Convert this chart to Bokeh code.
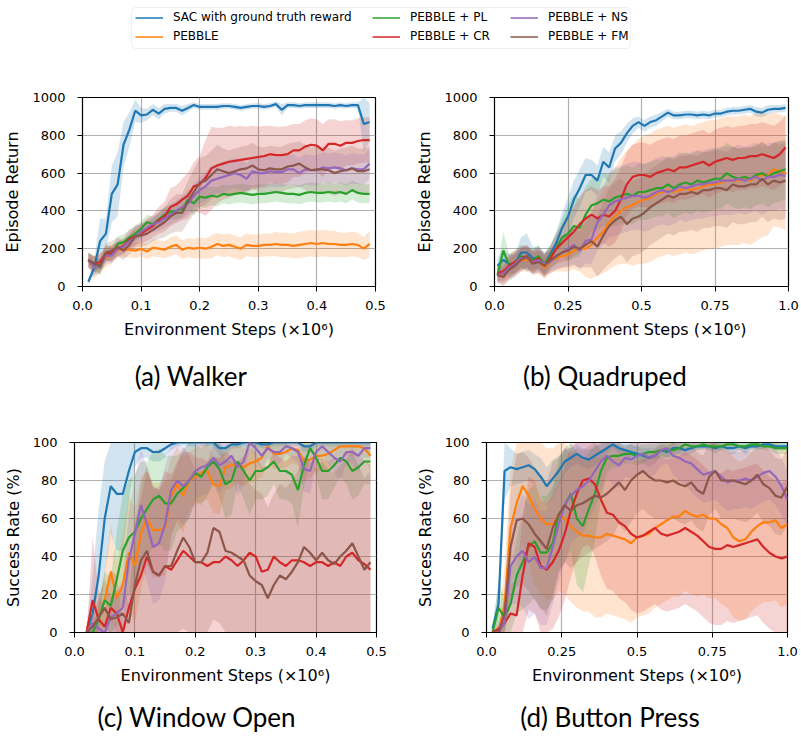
import numpy as np
from bokeh.plotting import figure
from bokeh.models import (Range1d, FixedTicker, CustomJSTickFormatter, PrintfTickFormatter,
                          Label, Legend, LegendItem, BoxAnnotation)
from bokeh.layouts import column, row
from bokeh.embed import file_html
from bokeh.resources import INLINE

methods = ["SAC with ground truth reward", "PEBBLE", "PEBBLE + PL",
           "PEBBLE + CR", "PEBBLE + NS", "PEBBLE + FM"]
colors = ["#1f77b4", "#ff7f0e", "#2ca02c", "#d62728", "#9467bd", "#8c564b"]

# ---------------- (a) Walker ----------------
walker_steps = [0.01, 0.02, 0.03, 0.04, 0.05, 0.06, 0.07, 0.08, 0.09, 0.10,
                0.11, 0.12, 0.13, 0.14, 0.15, 0.16, 0.17, 0.18, 0.19, 0.20,
                0.21, 0.22, 0.23, 0.24, 0.25, 0.26, 0.27, 0.28, 0.29, 0.30,
                0.31, 0.32, 0.33, 0.34, 0.35, 0.36, 0.37, 0.38, 0.39, 0.40,
                0.41, 0.42, 0.43, 0.44, 0.45, 0.46, 0.47, 0.48, 0.49]
walker_sac = [25, 100, 240, 280, 490, 540, 750, 830, 930, 905,
              910, 935, 915, 940, 945, 945, 930, 945, 960, 950,
              950, 950, 950, 955, 955, 950, 945, 950, 955, 955,
              950, 955, 965, 935, 960, 960, 955, 960, 960, 960,
              960, 960, 955, 960, 955, 960, 960, 860, 870]
walker_pebble = [140, 100, 130, 150, 170, 195, 195, 195, 190, 200,
                 185, 205, 200, 195, 210, 220, 195, 205, 200, 205,
                 200, 210, 225, 215, 220, 210, 200, 220, 215, 215,
                 220, 220, 225, 220, 220, 215, 220, 225, 230, 225,
                 230, 225, 225, 220, 220, 225, 220, 200, 225]
walker_pl = [140, 120, 100, 180, 170, 225, 235, 260, 280, 305,
             340, 330, 355, 380, 395, 400, 410, 460, 440, 475,
             470, 480, 475, 490, 485, 490, 495, 490, 485, 490,
             490, 495, 500, 495, 490, 490, 485, 495, 500, 495,
             495, 500, 495, 500, 490, 510, 495, 490, 490]
walker_cr = [140, 120, 130, 175, 175, 200, 215, 250, 265, 280,
             300, 320, 350, 370, 420, 435, 460, 480, 530, 540,
             575, 625, 640, 650, 660, 665, 670, 675, 680, 685,
             690, 700, 695, 695, 700, 720, 720, 740, 750, 745,
             720, 755, 755, 745, 760, 760, 770, 775, 775]
walker_ns = [140, 100, 110, 160, 165, 200, 210, 240, 260, 290,
             310, 330, 340, 360, 380, 400, 420, 440, 480, 510,
             530, 560, 570, 580, 590, 600, 590, 570, 610, 600,
             600, 610, 605, 605, 620, 620, 600, 620, 615, 615,
             630, 625, 630, 625, 615, 625, 620, 620, 650]
walker_fm = [140, 120, 110, 180, 190, 210, 190, 220, 265, 270,
             280, 300, 320, 340, 370, 390, 390, 450, 500, 550,
             560, 590, 620, 610, 600, 610, 620, 625, 640, 620,
             615, 625, 620, 620, 635, 640, 650, 630, 615, 620,
             620, 615, 600, 610, 615, 625, 610, 610, 620]
walker_sac_sd = [10, 40, 120, 80, 150, 170, 120, 90, 60, 40,
                 30, 30, 30, 25, 20, 20, 25, 20, 15, 15,
                 15, 15, 15, 15, 15, 15, 15, 15, 15, 15,
                 15, 15, 15, 30, 15, 15, 15, 15, 15, 15,
                 15, 15, 15, 15, 15, 15, 15, 150, 100]
walker_pebble_sd = [40, 60, 50, 50, 50, 40, 40, 40, 40, 40,
                    40, 45, 45, 45, 50, 50, 50, 50, 50, 55,
                    55, 60, 60, 60, 60, 60, 60, 60, 60, 60,
                    60, 60, 65, 65, 65, 65, 70, 70, 70, 70,
                    70, 70, 70, 65, 65, 65, 65, 60, 70]
walker_pl_sd = [40, 40, 40, 40, 40, 40, 40, 40, 40, 40,
                40, 40, 40, 40, 40, 45, 45, 50, 60, 55,
                55, 50, 50, 50, 50, 50, 50, 50, 50, 50,
                50, 50, 50, 50, 50, 50, 50, 50, 50, 50,
                50, 50, 50, 50, 50, 50, 50, 50, 50]
walker_cr_sd = [30, 40, 40, 40, 40, 40, 40, 50, 50, 50,
                60, 60, 70, 80, 100, 100, 110, 120, 130, 150,
                200, 220, 200, 190, 190, 180, 180, 170, 170, 160,
                160, 150, 150, 150, 150, 140, 140, 140, 140, 140,
                140, 130, 130, 130, 120, 120, 120, 120, 120]
walker_ns_sd = [40, 40, 40, 40, 40, 40, 40, 40, 40, 40,
                40, 40, 45, 50, 50, 55, 60, 60, 65, 70,
                75, 80, 80, 80, 80, 80, 80, 80, 80, 80,
                80, 80, 80, 80, 80, 80, 80, 80, 80, 80,
                80, 80, 80, 80, 80, 80, 80, 80, 80]
walker_fm_sd = [40, 40, 40, 50, 50, 50, 50, 50, 60, 60,
                60, 60, 70, 80, 90, 100, 100, 110, 120, 130,
                130, 130, 130, 120, 120, 120, 120, 120, 120, 120,
                120, 120, 120, 120, 120, 120, 120, 120, 120, 120,
                120, 120, 120, 120, 120, 120, 120, 120, 120]

# ---------------- (b) Quadruped ----------------
quad_steps = [0.01, 0.03, 0.05, 0.07, 0.09, 0.11, 0.13, 0.15, 0.17, 0.19,
              0.21, 0.23, 0.25, 0.27, 0.29, 0.31, 0.33, 0.35, 0.37, 0.39,
              0.41, 0.43, 0.45, 0.47, 0.49, 0.51, 0.53, 0.55, 0.57, 0.59,
              0.61, 0.63, 0.65, 0.67, 0.69, 0.71, 0.73, 0.75, 0.77, 0.79,
              0.81, 0.83, 0.85, 0.87, 0.89, 0.91, 0.93, 0.95, 0.97, 0.99]
quad_sac = [110, 140, 120, 120, 180, 180, 150, 150, 120, 170,
            230, 310, 370, 460, 520, 590, 590, 560, 660, 630,
            730, 760, 810, 850, 870, 850, 870, 880, 900, 920,
            905, 905, 910, 910, 905, 910, 905, 915, 915, 925,
            930, 930, 935, 940, 925, 920, 935, 940, 940, 945]
quad_pebble = [70, 60, 100, 120, 140, 140, 130, 130, 100, 130,
               150, 160, 170, 190, 200, 200, 220, 260, 290, 340,
               370, 400, 420, 430, 450, 460, 470, 490, 500, 510,
               500, 510, 520, 510, 520, 530, 540, 540, 550, 560,
               560, 560, 570, 560, 580, 590, 590, 620, 610, 600]
quad_pl = [60, 190, 110, 130, 160, 150, 140, 160, 120, 160,
           200, 260, 280, 320, 310, 380, 430, 440, 460, 450,
           470, 480, 490, 480, 500, 500, 510, 520, 520, 540,
           520, 540, 550, 540, 560, 550, 560, 570, 570, 600,
           580, 570, 580, 570, 590, 600, 580, 600, 610, 620]
quad_cr = [70, 80, 110, 130, 150, 160, 130, 150, 110, 150,
           200, 230, 260, 290, 330, 360, 380, 360, 380, 370,
           400, 460, 540, 580, 590, 590, 580, 600, 610, 620,
           610, 630, 630, 640, 650, 660, 640, 660, 670, 680,
           670, 680, 680, 690, 690, 700, 690, 680, 700, 735]
quad_ns = [60, 70, 100, 120, 150, 150, 130, 140, 120, 130,
           160, 180, 200, 220, 190, 240, 250, 340, 380, 430,
           450, 460, 470, 480, 480, 470, 480, 500, 510, 500,
           510, 530, 520, 530, 540, 540, 550, 550, 560, 560,
           560, 570, 560, 570, 580, 560, 580, 580, 590, 585]
quad_fm = [60, 50, 90, 110, 140, 160, 120, 130, 110, 140,
           160, 180, 190, 210, 200, 220, 240, 210, 270, 320,
           350, 370, 330, 360, 370, 390, 420, 440, 460, 480,
           470, 490, 490, 500, 490, 510, 510, 520, 520, 510,
           540, 530, 530, 540, 540, 570, 540, 560, 550, 560]
quad_sac_sd = [40, 60, 50, 50, 80, 100, 60, 60, 50, 50,
               60, 80, 100, 100, 100, 90, 80, 80, 80, 80,
               70, 60, 50, 40, 30, 30, 30, 30, 25, 20,
               20, 20, 20, 20, 20, 20, 20, 20, 20, 20,
               20, 20, 20, 20, 25, 25, 25, 20, 20, 20]
quad_pebble_sd = [40, 50, 60, 60, 60, 60, 60, 60, 60, 60,
                  70, 80, 90, 100, 120, 150, 180, 200, 220, 250,
                  260, 280, 300, 320, 330, 340, 340, 340, 340, 340,
                  340, 340, 340, 340, 340, 340, 340, 340, 340, 340,
                  340, 340, 340, 340, 340, 330, 320, 300, 300, 300]
quad_pl_sd = [40, 100, 60, 60, 60, 60, 60, 60, 60, 60,
              80, 100, 150, 170, 150, 150, 140, 140, 140, 140,
              150, 150, 150, 150, 150, 150, 150, 150, 150, 150,
              160, 160, 160, 160, 160, 160, 160, 160, 160, 160,
              160, 160, 160, 160, 160, 160, 160, 160, 160, 160]
quad_cr_sd = [40, 50, 60, 60, 60, 60, 60, 60, 60, 60,
              80, 100, 120, 130, 150, 150, 150, 150, 150, 160,
              170, 170, 170, 170, 170, 170, 170, 170, 170, 170,
              170, 170, 170, 170, 170, 170, 170, 170, 170, 170,
              170, 170, 170, 170, 170, 170, 170, 170, 170, 170]
quad_ns_sd = [40, 50, 60, 60, 60, 60, 60, 60, 60, 60,
              70, 80, 90, 100, 100, 120, 130, 150, 160, 170,
              180, 180, 180, 180, 180, 180, 180, 180, 180, 180,
              180, 180, 180, 180, 180, 180, 180, 180, 180, 180,
              180, 180, 180, 180, 180, 180, 180, 180, 180, 180]
quad_fm_sd = [40, 50, 60, 60, 60, 60, 60, 60, 60, 60,
              70, 80, 90, 100, 100, 120, 140, 160, 180, 200,
              200, 200, 200, 200, 200, 200, 200, 200, 200, 200,
              200, 200, 200, 200, 200, 200, 200, 200, 200, 200,
              200, 200, 200, 200, 200, 200, 200, 200, 200, 200]

# ---------------- (c) Window Open ----------------
window_steps = [0.02, 0.03, 0.04, 0.05, 0.06, 0.07, 0.08, 0.09, 0.10, 0.11,
                0.12, 0.13, 0.14, 0.15, 0.16, 0.17, 0.18, 0.19, 0.20, 0.21,
                0.22, 0.23, 0.24, 0.25, 0.26, 0.27, 0.28, 0.29, 0.30, 0.31,
                0.32, 0.33, 0.34, 0.35, 0.36, 0.37, 0.38, 0.39, 0.40, 0.41,
                0.42, 0.43, 0.44, 0.45, 0.46, 0.47, 0.48, 0.49]
window_sac = [0, 10, 30, 60, 77, 73, 73, 85, 95, 97,
              97, 95, 95, 97, 99, 100, 100, 100, 100, 100,
              100, 100, 97, 97, 99, 99, 100, 100, 100, 99,
              99, 100, 100, 100, 100, 100, 98, 98, 100, 100,
              100, 100, 100, 100, 100, 100, 100, 100]
window_pebble = [3, 3, 8, 17, 32, 18, 25, 42, 35, 52,
                 60, 54, 54, 55, 72, 78, 72, 80, 82, 84,
                 85, 78, 77, 87, 88, 89, 87, 89, 90, 92,
                 98, 94, 94, 95, 97, 96, 90, 91, 93, 93,
                 94, 96, 98, 98, 98, 98, 97, 93]
window_pl = [0, 0, 7, 17, 14, 28, 43, 50, 53, 60,
             65, 70, 72, 68, 68, 73, 76, 80, 84, 82,
             87, 90, 86, 78, 80, 90, 85, 80, 85, 85,
             87, 90, 85, 85, 83, 75, 88, 97, 92, 85,
             85, 88, 92, 90, 85, 87, 90, 90]
window_cr = [0, 17, 7, 3, 13, 10, 0, 13, 23, 30,
             40, 32, 30, 35, 33, 38, 43, 40, 37, 37,
             35, 37, 37, 40, 38, 35, 38, 42, 40, 32,
             33, 40, 37, 35, 38, 38, 37, 35, 37, 37,
             35, 37, 35, 40, 42, 38, 36, 33]
window_ns = [0, 5, 2, 0, 8, 10, 13, 38, 52, 67,
             57, 45, 47, 57, 75, 80, 77, 80, 85, 87,
             88, 92, 88, 90, 93, 87, 90, 100, 97, 93,
             97, 95, 95, 98, 97, 95, 86, 85, 95, 98,
             95, 92, 90, 95, 95, 93, 97, 97]
window_fm = [0, 3, 8, 13, 7, 8, 10, 5, 25, 38,
             43, 32, 30, 35, 35, 43, 50, 45, 37, 37,
             42, 55, 53, 43, 42, 40, 38, 30, 27, 25,
             18, 25, 30, 28, 32, 37, 45, 42, 38, 42,
             38, 36, 40, 43, 47, 40, 33, 37]
window_sac_sd = [0, 20, 35, 30, 25, 30, 30, 15, 8, 5,
                 5, 5, 5, 5, 3, 2, 2, 2, 2, 2,
                 2, 2, 4, 4, 2, 2, 2, 2, 2, 2,
                 2, 2, 2, 2, 2, 2, 3, 3, 2, 2,
                 2, 2, 2, 2, 2, 2, 2, 2]
window_pebble_sd = [3, 5, 10, 15, 25, 20, 25, 30, 30, 30,
                    25, 25, 25, 25, 20, 20, 20, 15, 15, 15,
                    15, 15, 15, 12, 12, 10, 10, 10, 10, 10,
                    8, 8, 8, 8, 8, 8, 10, 10, 8, 8,
                    8, 5, 5, 5, 5, 5, 5, 8]
window_pl_sd = [0, 0, 8, 15, 15, 25, 30, 30, 30, 30,
                25, 25, 25, 25, 25, 20, 20, 20, 15, 15,
                15, 12, 15, 18, 18, 12, 15, 18, 15, 15,
                15, 12, 15, 15, 15, 20, 12, 5, 10, 15,
                15, 12, 10, 12, 15, 15, 12, 12]
window_cr_sd = [0, 33, 15, 8, 20, 20, 5, 25, 35, 40,
                45, 45, 45, 50, 50, 52, 52, 55, 55, 55,
                55, 55, 55, 55, 55, 55, 55, 55, 55, 55,
                55, 55, 55, 55, 55, 55, 55, 55, 55, 55,
                55, 55, 55, 55, 55, 55, 55, 55]
window_ns_sd = [0, 5, 3, 0, 10, 12, 15, 25, 30, 30,
                30, 30, 30, 30, 25, 20, 20, 20, 15, 15,
                15, 12, 15, 12, 10, 15, 12, 2, 5, 8,
                5, 6, 6, 4, 5, 6, 12, 12, 6, 4,
                6, 8, 10, 6, 6, 8, 5, 5]
window_fm_sd = [0, 5, 10, 15, 12, 12, 15, 10, 30, 40,
                45, 45, 45, 45, 45, 45, 48, 48, 48, 48,
                48, 48, 48, 48, 48, 48, 48, 48, 48, 48,
                48, 48, 48, 48, 48, 48, 48, 48, 48, 48,
                48, 48, 48, 48, 48, 48, 48, 48]

# ---------------- (d) Button Press ----------------
button_steps = [0.02, 0.04, 0.06, 0.08, 0.10, 0.12, 0.14, 0.16, 0.18, 0.20,
                0.22, 0.24, 0.26, 0.28, 0.30, 0.32, 0.34, 0.36, 0.38, 0.40,
                0.42, 0.44, 0.46, 0.48, 0.50, 0.52, 0.54, 0.56, 0.58, 0.60,
                0.62, 0.64, 0.66, 0.68, 0.70, 0.72, 0.74, 0.76, 0.78, 0.80,
                0.82, 0.84, 0.86, 0.88, 0.90, 0.92, 0.94, 0.96, 0.98, 1.00]
button_sac = [2, 15, 85, 87, 86, 87, 88, 86, 82, 77,
              81, 85, 90, 92, 94, 92, 91, 93, 95, 97,
              99, 97, 96, 95, 94, 93, 92, 93, 96, 95,
              97, 97, 96, 97, 98, 98, 98, 97, 98, 97,
              97, 98, 97, 98, 98, 99, 99, 98, 98, 98]
button_pebble = [0, 0, 15, 55, 68, 77, 72, 65, 60, 57,
                 57, 62, 60, 56, 53, 51, 51, 50, 50, 52,
                 51, 50, 49, 47, 50, 51, 52, 55, 57, 59,
                 61, 61, 64, 62, 61, 62, 60, 60, 57, 55,
                 50, 48, 49, 53, 56, 58, 58, 59, 55, 57]
button_pl = [0, 13, 8, 15, 30, 37, 45, 48, 42, 42,
             47, 62, 67, 73, 60, 56, 65, 73, 85, 92,
             93, 93, 94, 94, 93, 94, 95, 95, 96, 96,
             96, 97, 99, 98, 98, 99, 98, 98, 98, 99,
             99, 98, 98, 99, 99, 98, 98, 97, 97, 97]
button_cr = [0, 2, 5, 10, 9, 30, 47, 45, 35, 33,
             37, 43, 52, 64, 73, 80, 81, 78, 70, 63,
             62, 58, 56, 52, 50, 51, 53, 55, 52, 51,
             52, 53, 55, 53, 51, 48, 45, 44, 44, 46,
             45, 46, 47, 48, 49, 45, 42, 40, 39, 40]
button_ns = [0, 0, 5, 35, 40, 43, 37, 40, 34, 34,
             45, 57, 67, 72, 75, 77, 80, 85, 90, 93,
             90, 88, 92, 91, 93, 94, 92, 93, 96, 97,
             93, 92, 90, 89, 86, 83, 84, 85, 82, 79,
             80, 80, 81, 80, 82, 84, 85, 82, 77, 70]
button_fm = [0, 0, 10, 45, 59, 60, 57, 52, 48, 44,
             55, 62, 67, 64, 67, 68, 70, 72, 71, 73,
             76, 79, 75, 80, 83, 85, 82, 80, 80, 79,
             80, 78, 77, 79, 75, 73, 82, 85, 80, 80,
             80, 79, 78, 80, 83, 78, 76, 72, 71, 77]
button_sac_sd = [2, 10, 15, 10, 8, 8, 8, 8, 10, 10,
                 10, 8, 6, 5, 5, 5, 5, 5, 4, 3,
                 2, 3, 3, 4, 4, 4, 5, 4, 3, 3,
                 3, 3, 3, 3, 2, 2, 2, 3, 2, 3,
                 3, 2, 3, 2, 2, 2, 2, 2, 2, 2]
button_pebble_sd = [0, 5, 20, 30, 35, 30, 35, 40, 40, 40,
                    40, 40, 40, 40, 40, 40, 40, 42, 42, 42,
                    42, 42, 42, 42, 42, 42, 42, 42, 42, 42,
                    42, 42, 42, 42, 42, 42, 42, 42, 42, 42,
                    42, 42, 42, 42, 42, 42, 42, 42, 42, 42]
button_pl_sd = [0, 15, 10, 15, 20, 25, 30, 30, 30, 30,
                30, 30, 30, 30, 35, 35, 30, 25, 15, 8,
                6, 6, 5, 5, 5, 5, 4, 4, 4, 4,
                4, 3, 2, 2, 2, 2, 2, 2, 2, 2,
                2, 2, 2, 2, 2, 2, 2, 3, 3, 3]
button_cr_sd = [0, 3, 8, 15, 20, 30, 35, 35, 35, 35,
                35, 35, 35, 35, 35, 35, 35, 38, 40, 40,
                40, 40, 40, 40, 40, 40, 40, 40, 40, 40,
                40, 40, 40, 40, 40, 40, 40, 40, 40, 40,
                40, 40, 40, 40, 40, 40, 40, 40, 40, 40]
button_ns_sd = [0, 0, 8, 20, 25, 30, 30, 30, 30, 30,
                30, 30, 30, 25, 25, 25, 20, 20, 15, 12,
                12, 12, 10, 10, 10, 10, 10, 10, 8, 8,
                10, 12, 12, 15, 15, 15, 15, 15, 15, 15,
                15, 15, 15, 15, 15, 15, 15, 15, 15, 15]
button_fm_sd = [0, 0, 10, 30, 35, 35, 35, 35, 35, 35,
                35, 30, 30, 30, 30, 28, 28, 28, 25, 25,
                25, 22, 22, 22, 20, 20, 20, 20, 20, 20,
                20, 20, 20, 20, 20, 20, 20, 20, 20, 20,
                20, 20, 20, 20, 20, 20, 20, 20, 20, 20]

half_ticks = [0.0, 0.1, 0.2, 0.3, 0.4, 0.5]
full_ticks = [0.0, 0.25, 0.5, 0.75, 1.0]
return_ticks = [0, 200, 400, 600, 800, 1000]
rate_ticks = [0, 20, 40, 60, 80, 100]

FONT = "DejaVu Sans"
CAPTION_FONT = "Lato"


def full_formatter():
    return CustomJSTickFormatter(code="""
        const s = String(tick);
        return s.indexOf('.') >= 0 ? s : tick.toFixed(1);
    """)


def panel(steps, means, sds, ylabel, xmax, ymax, xticks, yticks, xfmt,
          width, height, bl, br, bt, bb):
    p = figure(width=width, height=height,
               x_range=Range1d(0, xmax), y_range=Range1d(0, ymax),
               output_backend="svg", toolbar_location=None,
               min_border_left=bl, min_border_right=br,
               min_border_top=bt, min_border_bottom=bb)
    x = np.array(steps, dtype=float)
    for m, s, c in zip(means, sds, colors):
        m = np.array(m, dtype=float)
        s = np.array(s, dtype=float)
        lo = np.clip(m - s, 0, ymax)
        hi = np.clip(m + s, 0, ymax)
        p.varea(x=x, y1=lo, y2=hi, fill_color=c, fill_alpha=0.2)
    for m, c in zip(means, colors):
        p.line(x, np.array(m, dtype=float), line_color=c, line_width=2.2)

    p.xaxis.ticker = FixedTicker(ticks=xticks)
    p.yaxis.ticker = FixedTicker(ticks=yticks)
    p.xaxis.formatter = xfmt
    for ax in (p.xaxis[0], p.yaxis[0]):
        ax.major_label_text_font = FONT
        ax.major_label_text_font_size = "13px"
        ax.major_label_text_color = "black"
        ax.axis_label_text_font = FONT
        ax.axis_label_text_font_size = "16px"
        ax.axis_label_text_font_style = "normal"
        ax.axis_label_text_color = "black"
        ax.major_tick_out = 5
        ax.major_tick_in = 0
        ax.minor_tick_line_color = None
        ax.major_tick_line_color = "black"
        ax.axis_line_color = "black"
    p.xaxis.major_label_standoff = 9
    p.xaxis.axis_label_standoff = 7
    p.yaxis.major_label_standoff = 12
    p.yaxis.axis_label_standoff = 7
    p.xaxis.axis_label = "Environment Steps (×10⁶)"
    p.yaxis.axis_label = ylabel
    p.grid.grid_line_color = "#b0b0b0"
    p.grid.grid_line_width = 1.2
    p.outline_line_color = "black"
    p.outline_line_width = 1.2
    p.outline_line_alpha = 1
    return p


def caption_strip(text, width, height, cx, baseline):
    c = figure(width=width, height=height, x_range=Range1d(0, width),
               y_range=Range1d(0, height), output_backend="svg",
               toolbar_location=None, x_axis_type=None, y_axis_type=None,
               min_border=0)
    c.outline_line_color = None
    c.add_layout(Label(x=cx, y=baseline, x_units="screen", y_units="screen",
                       text=text, text_align="center", text_baseline="alphabetic",
                       text_font=CAPTION_FONT, text_font_size="26px",
                       text_color="black"))
    return c


p1 = panel(walker_steps,
           [walker_sac, walker_pebble, walker_pl, walker_cr, walker_ns, walker_fm],
           [walker_sac_sd, walker_pebble_sd, walker_pl_sd, walker_cr_sd, walker_ns_sd, walker_fm_sd],
           "Episode Return", 0.5, 1000, half_ticks, return_ticks,
           PrintfTickFormatter(format="%.1f"), 400, 294, 80, 25, 41, 64)
p2 = panel(quad_steps,
           [quad_sac, quad_pebble, quad_pl, quad_cr, quad_ns, quad_fm],
           [quad_sac_sd, quad_pebble_sd, quad_pl_sd, quad_cr_sd, quad_ns_sd, quad_fm_sd],
           "Episode Return", 1.0, 1000, full_ticks, return_ticks,
           full_formatter(), 401, 294, 94, 13, 41, 64)
p3 = panel(window_steps,
           [window_sac, window_pebble, window_pl, window_cr, window_ns, window_fm],
           [window_sac_sd, window_pebble_sd, window_pl_sd, window_cr_sd, window_ns_sd, window_fm_sd],
           "Success Rate (%)", 0.5, 100, half_ticks, rate_ticks,
           PrintfTickFormatter(format="%.1f"), 400, 280, 72, 24, 32, 58)
p4 = panel(button_steps,
           [button_sac, button_pebble, button_pl, button_cr, button_ns, button_fm],
           [button_sac_sd, button_pebble_sd, button_pl_sd, button_cr_sd, button_ns_sd, button_fm_sd],
           "Success Rate (%)", 1.0, 100, full_ticks, rate_ticks,
           full_formatter(), 401, 280, 86, 14, 32, 58)

cap_a = caption_strip("(a) Walker", 400, 60, 190.5, 35)
cap_b = caption_strip("(b) Quadruped", 401, 60, 204.5, 35)
cap_c = caption_strip("(c) Window Open", 400, 47, 196.5, 21)
cap_d = caption_strip("(d) Button Press", 401, 47, 209.5, 21)

# ---------------- legend strip ----------------
lg = figure(width=801, height=56, x_range=Range1d(0, 801), y_range=Range1d(0, 56),
            output_backend="svg", toolbar_location=None,
            x_axis_type=None, y_axis_type=None, min_border=0)
lg.outline_line_color = None
lg.add_layout(BoxAnnotation(left=131, right=630, bottom=8, top=49,
                            fill_color="white", fill_alpha=1,
                            line_color="#cccccc", line_width=1, border_radius=4))
rends = [lg.line(x=[np.nan], y=[np.nan], line_color=c, line_width=1.5) for c in colors]
for a, b, x0 in [(0, 1, 135), (2, 3, 372), (4, 5, 510)]:
    leg = Legend(items=[LegendItem(label=methods[a], renderers=[rends[a]]),
                        LegendItem(label=methods[b], renderers=[rends[b]])],
                 location=(x0, 12.5), orientation="vertical",
                 padding=0, margin=0, spacing=4,
                 glyph_width=28, glyph_height=15, label_height=15,
                 label_standoff=10, label_text_font=FONT,
                 label_text_font_size="12px", label_text_color="black",
                 border_line_color=None, background_fill_alpha=0)
    lg.add_layout(leg)

layout = column(lg, row(p1, p2), row(cap_a, cap_b), row(p3, p4), row(cap_c, cap_d))
open("out.html", "w").write(file_html(layout, INLINE))
